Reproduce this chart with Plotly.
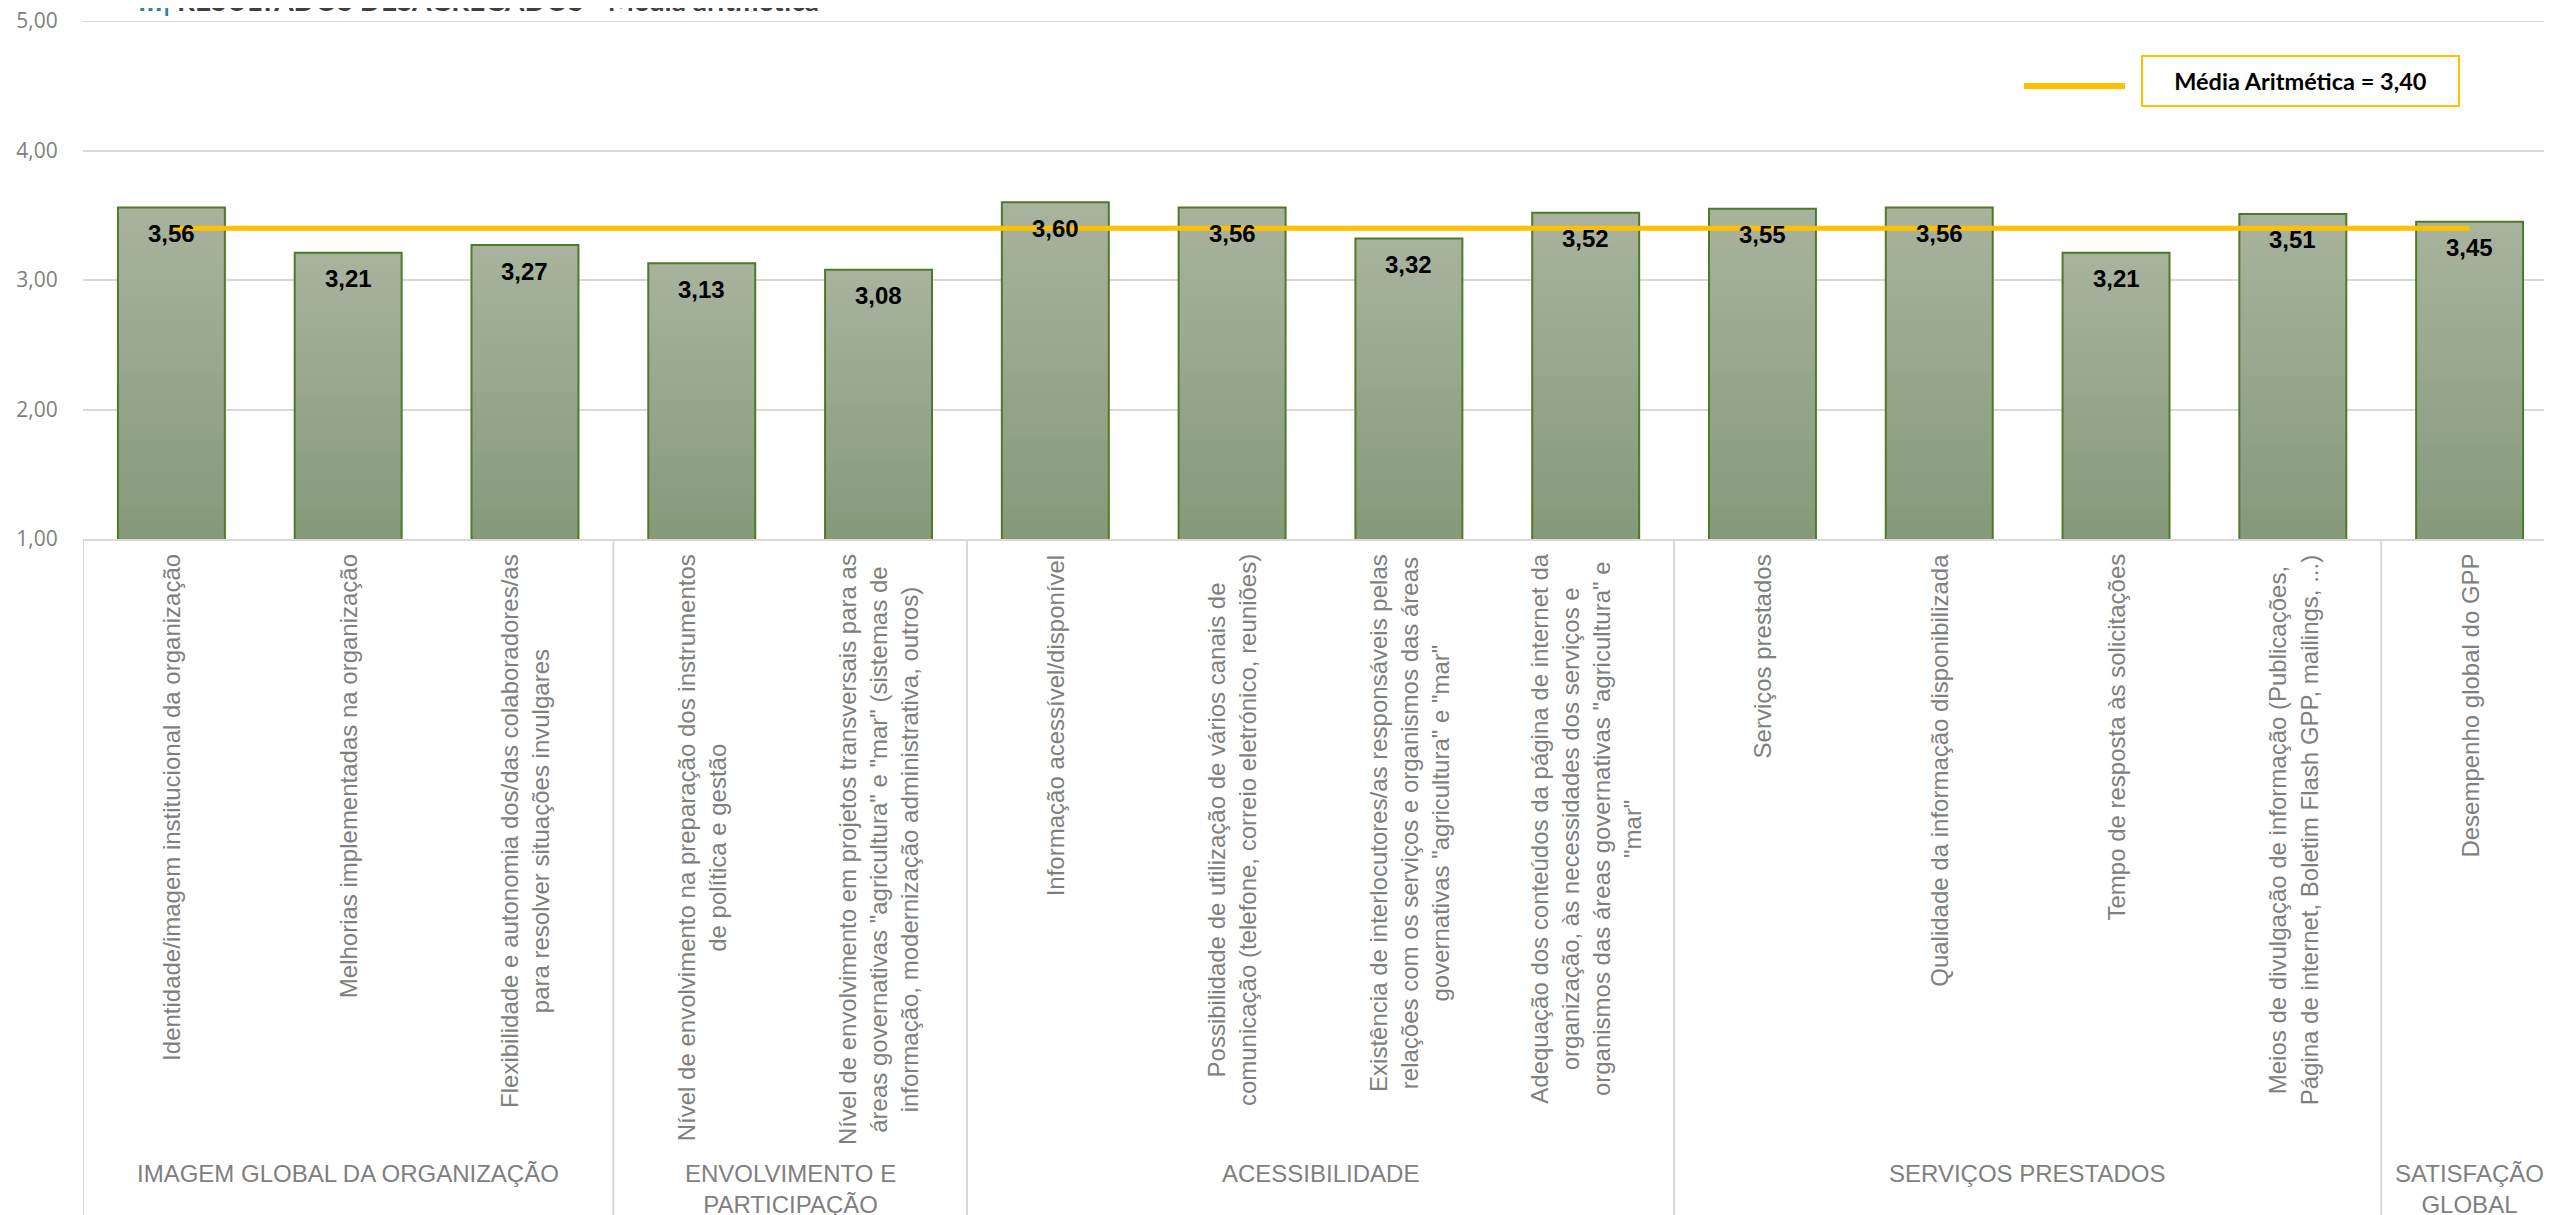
import plotly.graph_objects as go

# ---------------- data ----------------
CATEGORIES = [
    "Identidade/imagem institucional da organização",
    "Melhorias implementadas na organização",
    "Flexibilidade e autonomia dos/das colaboradores/as<br>para resolver situações invulgares",
    "Nível de envolvimento na preparação dos instrumentos<br>de política e gestão",
    "Nível de envolvimento em projetos transversais para as<br>áreas governativas \"agricultura\" e \"mar\" (sistemas de<br>informação, modernização administrativa, outros)",
    "Informação acessível/disponível",
    "Possibilidade de utilização de vários canais de<br>comunicação (telefone, correio eletrónico, reuniões)",
    "Existência de interlocutores/as responsáveis pelas<br>relações com os serviços e organismos das áreas<br>governativas \"agricultura\" e \"mar\"",
    "Adequação dos conteúdos da página de internet da<br>organização, às necessidades dos serviços e<br>organismos das áreas governativas \"agricultura\" e<br>\"mar\"",
    "Serviços prestados",
    "Qualidade da informação disponibilizada",
    "Tempo de resposta às solicitações",
    "Meios de divulgação de informação (Publicações,<br>Página de internet, Boletim Flash GPP, mailings, ...)",
    "Desempenho global do GPP",
]
VALUES = [3.56, 3.21, 3.27, 3.13, 3.08, 3.60, 3.56, 3.32, 3.52, 3.55, 3.56, 3.21, 3.51, 3.45]
GROUPS = [
    "IMAGEM GLOBAL DA ORGANIZAÇÃO",
    "ENVOLVIMENTO E<br>PARTICIPAÇÃO",
    "ACESSIBILIDADE",
    "SERVIÇOS PRESTADOS",
    "SATISFAÇÃO<br>GLOBAL",
]
GROUP_SIZES = [3, 2, 4, 4, 1]
MEAN = 3.40
Y_TICKS = [1, 2, 3, 4, 5]
TITLE_PREFIX = "III| "
TITLE = "RESULTADOS DESAGREGADOS - Média aritmética"
LEGEND_LABEL = "Média Aritmética"

# ---------------- styling ----------------
W, H = 2552, 1215
OFF = 8                      # default page body margin
PLOT_L, PLOT_T, PLOT_B = 83, 21, 539   # page pixels
PLOT_R = 2558
PLOT_W = PLOT_R - PLOT_L
PLOT_H = PLOT_B - PLOT_T
ML = PLOT_L - OFF
MT = PLOT_T - OFF
MR = W - (PLOT_R - OFF)
MB = H - (PLOT_B - OFF)
Y_MIN, Y_MAX = Y_TICKS[0], Y_TICKS[-1]

BAR_TOP = (168, 179, 158)
BAR_BOTTOM = (134, 154, 123)
BAR_EDGE = "#4F7A28"
MEAN_COLOR = "#FFC000"
GRID = "#D9D9D9"
LABEL_GRAY = "#7F7F7F"
ARIAL = "Liberation Sans, Arial, sans-serif"


def fmt(v):
    return f"{v:.2f}".replace(".", ",")


def px_to_paper_y(py):
    return 1 - (py - PLOT_T) / PLOT_H


def px_to_paper_x(px):
    return (px - PLOT_L) / PLOT_W


x = list(range(len(VALUES)))
fig = go.Figure()

# gradient-filled bars: overlapping slices from dark (bottom) to light (top)
N = 30
for k in range(N):
    t = k / (N - 1)
    c = tuple(round(BAR_BOTTOM[i] + (BAR_TOP[i] - BAR_BOTTOM[i]) * t) for i in range(3))
    base = [Y_MIN + (v - Y_MIN) * k / N for v in VALUES]
    fig.add_trace(go.Bar(
        x=x, y=[v - b for v, b in zip(VALUES, base)], base=base,
        marker=dict(color=f"rgb{c}", line=dict(width=0)),
        hoverinfo="skip",
    ))

# outline bars
fig.add_trace(go.Bar(
    x=x, y=VALUES,
    marker=dict(color="rgba(0,0,0,0)", line=dict(color=BAR_EDGE, width=2)),
))

# mean line
fig.add_trace(go.Scatter(
    x=x, y=[MEAN] * len(x), mode="lines",
    line=dict(color=MEAN_COLOR, width=5),
))

annotations = []
# data labels
for xi, v in zip(x, VALUES):
    annotations.append(dict(
        x=xi, y=v, xref="x", yref="y", text=f"<b>{fmt(v)}</b>",
        showarrow=False, yanchor="middle", xanchor="center", yshift=-26,
        font=dict(family=ARIAL, size=24, color="#000000"),
    ))

# category labels (rotated)
for xi, cat in zip(x, CATEGORIES):
    annotations.append(dict(
        x=xi, y=px_to_paper_y(553), xref="x", yref="paper", text=cat,
        showarrow=False, textangle=-90, yanchor="top", xanchor="center",
        align="center", borderpad=0,
        font=dict(family=ARIAL, size=24, color=LABEL_GRAY),
    ))

# group labels + separators
shapes = []
start = 0
for g, n in zip(GROUPS, GROUP_SIZES):
    center = start + (n - 1) / 2
    annotations.append(dict(
        x=center, y=px_to_paper_y(1159), xref="x", yref="paper", text=g,
        showarrow=False, yanchor="top", xanchor="center", align="center",
        borderpad=0,
        font=dict(family=ARIAL, size=24, color=LABEL_GRAY),
    ))
    shapes.append(dict(
        type="line", xref="x", yref="paper",
        x0=start - 0.5, x1=start - 0.5, y0=0, y1=px_to_paper_y(H + 10),
        line=dict(color=GRID, width=2),
    ))
    start += n

# top gridline (range edge)
shapes.append(dict(
    type="line", xref="paper", yref="y", x0=0, x1=1, y0=Y_MAX, y1=Y_MAX,
    line=dict(color=GRID, width=2), layer="below",
))

# legend: sample line + boxed label
shapes.append(dict(
    type="line", xref="paper", yref="paper",
    x0=px_to_paper_x(2024), x1=px_to_paper_x(2125),
    y0=px_to_paper_y(86), y1=px_to_paper_y(86),
    line=dict(color=MEAN_COLOR, width=6),
))
annotations.append(dict(
    x=px_to_paper_x(2300), y=px_to_paper_y(81), xref="paper", yref="paper",
    text=f"<b>{LEGEND_LABEL} = {fmt(MEAN)}</b>", showarrow=False,
    xanchor="center", yanchor="middle", width=313, height=46,
    bordercolor=MEAN_COLOR, borderwidth=2, borderpad=1, bgcolor="white",
    align="center",
    font=dict(family="Lato, sans-serif", size=23.5, color="#000000"),
))

# clipped title at top
annotations.append(dict(
    x=px_to_paper_x(136), y=px_to_paper_y(19), xref="paper", yref="paper",
    text=f"<span style='color:#31849B'><b>{TITLE_PREFIX}</b></span><b>{TITLE}</b>",
    showarrow=False, xanchor="left", yanchor="bottom",
    font=dict(family="Lato, sans-serif", size=28, color="#404040"),
))

fig.update_layout(
    template="none",
    width=W, height=H,
    margin=dict(l=ML, r=MR, t=MT, b=MB, pad=0),
    paper_bgcolor="white", plot_bgcolor="white",
    barmode="overlay", bargap=0.395,
    showlegend=False,
    separators=",.",
    annotations=annotations,
    shapes=shapes,
    xaxis=dict(
        range=[-0.5, len(VALUES) - 0.5], showticklabels=False, showgrid=False,
        zeroline=False, showline=True, linecolor=GRID, linewidth=2,
        ticks="", automargin=False, fixedrange=True,
    ),
    yaxis=dict(
        range=[Y_MIN, Y_MAX], tickvals=Y_TICKS, tickformat=".2f",
        showgrid=True, gridcolor=GRID, gridwidth=2, zeroline=False,
        showline=False, ticks="outside", ticklen=20,
        tickcolor="rgba(0,0,0,0)", automargin=False,
        ticklabeloverflow="allow",
        tickfont=dict(family="Open Sans, sans-serif", size=21, color=LABEL_GRAY),
    ),
)

fig.write_html("out.html")
